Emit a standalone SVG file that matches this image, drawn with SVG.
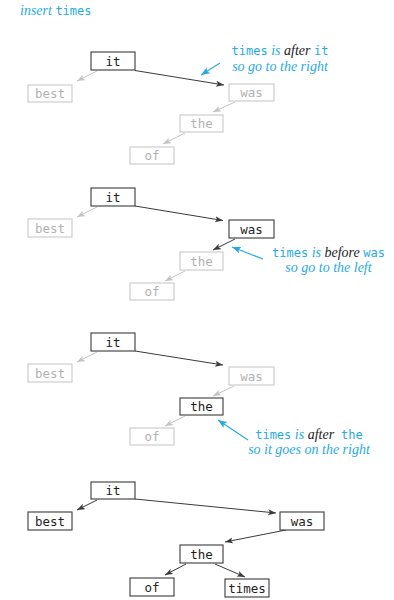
<svg xmlns="http://www.w3.org/2000/svg" width="394" height="600" viewBox="0 0 394 600">
<style>
  .bg{fill:#fff}
  .box{fill:#fff;stroke-width:1.1}
  .on rect{stroke:#3a3a3a}
  .on text{fill:#1e1e1e}
  .off rect{stroke:#c9c9c9}
  .off text{fill:#b2b2b2}
  .lbl{font-family:"DejaVu Sans Mono","Liberation Mono",monospace;font-size:12.5px;text-anchor:middle}
  .e{fill:none;stroke-width:1}
  .ed{stroke:#3a3a3a}
  .eg{stroke:#c4c4c4}
  .eb{stroke:#27aae1;stroke-width:1.2}
  .note{font-family:"Liberation Serif",serif;font-style:italic;font-size:14px;fill:#27aae1;text-anchor:middle}
  .mono{font-family:"DejaVu Sans Mono","Liberation Mono",monospace;font-style:normal;font-size:12px}
  .blk{fill:#222}
</style>
<defs>
  <marker id="ad" markerUnits="userSpaceOnUse" markerWidth="10" markerHeight="8" refX="8" refY="3" orient="auto"><path d="M0,0 L8,3 L0,6 L2,3 z" fill="#3a3a3a"/></marker>
  <marker id="ag" markerUnits="userSpaceOnUse" markerWidth="10" markerHeight="8" refX="8" refY="3" orient="auto"><path d="M0,0 L8,3 L0,6 L2,3 z" fill="#c4c4c4"/></marker>
  <marker id="ab" markerUnits="userSpaceOnUse" markerWidth="12" markerHeight="10" refX="9" refY="3.5" orient="auto"><path d="M0,0 L9,3.5 L0,7 L2,3.5 z" fill="#27aae1"/></marker>
</defs>
<rect class="bg" x="0" y="0" width="394" height="600"/>

<text id="title" class="note" x="20" y="15" style="text-anchor:start">insert <tspan class="mono">times</tspan></text>

<g id="connectors">
  <!-- panel 1 -->
  <line class="e eg" x1="97" y1="71" x2="77" y2="81" marker-end="url(#ag)"/>
  <line class="e ed" x1="135" y1="70.5" x2="224" y2="85" marker-end="url(#ad)"/>
  <line class="e eg" x1="235" y1="102" x2="213" y2="112" marker-end="url(#ag)"/>
  <line class="e eg" x1="185" y1="133" x2="163" y2="144" marker-end="url(#ag)"/>
  <line class="e eb" x1="220" y1="63" x2="201" y2="75" marker-end="url(#ab)"/>
  <!-- panel 2 -->
  <line class="e eg" x1="97" y1="207" x2="77" y2="217" marker-end="url(#ag)"/>
  <line class="e ed" x1="135" y1="206" x2="223" y2="220.5" marker-end="url(#ad)"/>
  <line class="e ed" x1="235" y1="239" x2="213" y2="250" marker-end="url(#ad)"/>
  <line class="e eg" x1="185" y1="271" x2="165" y2="281" marker-end="url(#ag)"/>
  <line class="e eb" x1="263" y1="259" x2="232" y2="247" marker-end="url(#ab)"/>
  <!-- panel 3 -->
  <line class="e eg" x1="97" y1="352" x2="77" y2="362" marker-end="url(#ag)"/>
  <line class="e ed" x1="135" y1="351" x2="223" y2="365" marker-end="url(#ad)"/>
  <line class="e eg" x1="234" y1="386" x2="213" y2="396" marker-end="url(#ag)"/>
  <line class="e eg" x1="185" y1="416" x2="165" y2="426" marker-end="url(#ag)"/>
  <line class="e eb" x1="248" y1="440" x2="218" y2="420" marker-end="url(#ab)"/>
  <!-- panel 4 -->
  <line class="e ed" x1="97" y1="500" x2="77" y2="510" marker-end="url(#ad)"/>
  <line class="e ed" x1="135" y1="499" x2="276" y2="513" marker-end="url(#ad)"/>
  <line class="e ed" x1="286" y1="530" x2="225" y2="542" marker-end="url(#ad)"/>
  <line class="e ed" x1="186" y1="564" x2="165" y2="575" marker-end="url(#ad)"/>
  <line class="e ed" x1="215" y1="564" x2="245" y2="577" marker-end="url(#ad)"/>
</g>

<!-- panel 1 -->
<g id="p1-it" class="on"><rect class="box" x="91" y="52" width="44" height="18"/><text class="lbl" x="113" y="65.5">it</text></g>
<g id="p1-best" class="off"><rect class="box" x="28" y="85" width="44" height="17"/><text class="lbl" x="50" y="98">best</text></g>
<g id="p1-was" class="off"><rect class="box" x="229" y="84" width="45" height="17"/><text class="lbl" x="251.5" y="97">was</text></g>
<g id="p1-the" class="off"><rect class="box" x="180" y="115" width="43" height="17"/><text class="lbl" x="201.5" y="128">the</text></g>
<g id="p1-of" class="off"><rect class="box" x="130" y="147" width="44" height="17"/><text class="lbl" x="152" y="160">of</text></g>
<g id="p1-note"><text class="note" x="280" y="55"><tspan class="mono">times</tspan> is <tspan class="blk">after</tspan> <tspan class="mono">it</tspan></text><text class="note" x="280" y="71">so go to the right</text></g>

<!-- panel 2 -->
<g id="p2-it" class="on"><rect class="box" x="91" y="188" width="44" height="18"/><text class="lbl" x="113" y="201.5">it</text></g>
<g id="p2-best" class="off"><rect class="box" x="28" y="219" width="44" height="18"/><text class="lbl" x="50" y="232.5">best</text></g>
<g id="p2-was" class="on"><rect class="box" x="229" y="220" width="45" height="18"/><text class="lbl" x="251.5" y="233.5">was</text></g>
<g id="p2-the" class="off"><rect class="box" x="180" y="252" width="43" height="18"/><text class="lbl" x="201.5" y="265.5">the</text></g>
<g id="p2-of" class="off"><rect class="box" x="130" y="283" width="44" height="17"/><text class="lbl" x="152" y="296">of</text></g>
<g id="p2-note"><text class="note" x="328.5" y="256.5"><tspan class="mono">times</tspan> is <tspan class="blk">before</tspan> <tspan class="mono">was</tspan></text><text class="note" x="328.5" y="271.5">so go to the left</text></g>

<!-- panel 3 -->
<g id="p3-it" class="on"><rect class="box" x="91" y="333" width="44" height="18"/><text class="lbl" x="113" y="346.5">it</text></g>
<g id="p3-best" class="off"><rect class="box" x="28" y="364" width="44" height="18"/><text class="lbl" x="50" y="377.5">best</text></g>
<g id="p3-was" class="off"><rect class="box" x="229" y="367" width="45" height="18"/><text class="lbl" x="251.5" y="380.5">was</text></g>
<g id="p3-the" class="on"><rect class="box" x="180" y="398" width="43" height="17"/><text class="lbl" x="201.5" y="411">the</text></g>
<g id="p3-of" class="off"><rect class="box" x="130" y="428" width="44" height="17"/><text class="lbl" x="152" y="441">of</text></g>
<g id="p3-note"><text class="note" x="309" y="438.5" xml:space="preserve"><tspan class="mono">times</tspan> is <tspan class="blk">after</tspan>  <tspan class="mono">the</tspan></text><text class="note" x="309" y="453.5">so it goes on the right</text></g>

<!-- panel 4 -->
<g id="p4-it" class="on"><rect class="box" x="91" y="482" width="44" height="17"/><text class="lbl" x="113" y="495">it</text></g>
<g id="p4-best" class="on"><rect class="box" x="28" y="512" width="44" height="18"/><text class="lbl" x="50" y="525.5">best</text></g>
<g id="p4-was" class="on"><rect class="box" x="280" y="512" width="44" height="18"/><text class="lbl" x="302" y="525.5">was</text></g>
<g id="p4-the" class="on"><rect class="box" x="180" y="545" width="43" height="18"/><text class="lbl" x="201.5" y="558.5">the</text></g>
<g id="p4-of" class="on"><rect class="box" x="130" y="578" width="44" height="18"/><text class="lbl" x="152" y="591.5">of</text></g>
<g id="p4-times" class="on"><rect class="box" x="225" y="579" width="44" height="18"/><text class="lbl" x="247" y="592.5">times</text></g>
</svg>
